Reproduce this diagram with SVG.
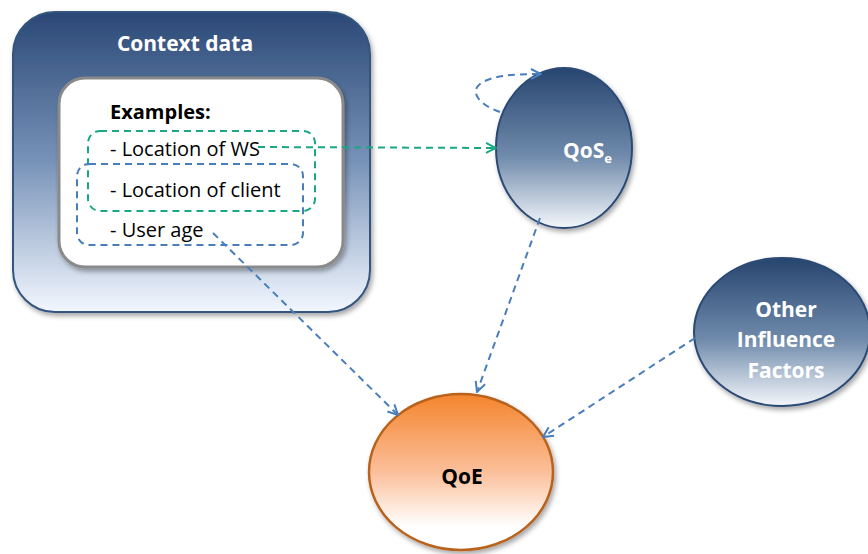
<svg xmlns="http://www.w3.org/2000/svg" width="868" height="554" viewBox="0 0 868 554">
<defs>
<linearGradient id="gOuter" x1="0" y1="0" x2="0" y2="1">
<stop offset="0" stop-color="#2a4876"/>
<stop offset="0.5" stop-color="#7893b8"/>
<stop offset="1" stop-color="#f2f7ff"/>
</linearGradient>
<linearGradient id="gBlue" x1="0" y1="0" x2="0" y2="1">
<stop offset="0" stop-color="#27456f"/>
<stop offset="0.55" stop-color="#6f8aab"/>
<stop offset="1" stop-color="#f4f7fb"/>
</linearGradient>
<linearGradient id="gOrange" x1="0" y1="0" x2="0" y2="1">
<stop offset="0" stop-color="#f4842c"/>
<stop offset="0.5" stop-color="#fbbf9a"/>
<stop offset="0.85" stop-color="#ffffff"/>
<stop offset="1" stop-color="#ffffff"/>
</linearGradient>
<filter id="sh" x="-10%" y="-10%" width="130%" height="130%">
<feDropShadow dx="2" dy="3" stdDeviation="2.5" flood-color="#000" flood-opacity="0.35"/>
</filter>
<marker id="arB" viewBox="0 0 12 12" refX="11" refY="6" markerWidth="12" markerHeight="12" markerUnits="userSpaceOnUse" orient="auto">
<polyline points="1,1 11,6 1,11" fill="none" stroke="#4a7ebb" stroke-width="2"/>
</marker>
<marker id="arG" viewBox="0 0 12 12" refX="11" refY="6" markerWidth="12" markerHeight="12" markerUnits="userSpaceOnUse" orient="auto">
<polyline points="1,1 11,6 1,11" fill="none" stroke="#1aa884" stroke-width="2"/>
</marker>
</defs>
<style>
.t{font-family:"Open Sans","Liberation Sans",sans-serif}
.wb{fill:#fff;font-weight:bold;font-size:21px;text-anchor:middle}
.bk{fill:#000;font-size:20px}
.db{fill:none;stroke:#4a7ebb;stroke-width:2;stroke-dasharray:7,5}
.dg{fill:none;stroke:#1aa884;stroke-width:2;stroke-dasharray:7,5}
</style>
<rect width="868" height="554" fill="#fff"/>

<g id="context">
<rect x="13" y="12" width="357" height="300" rx="42" fill="url(#gOuter)" stroke="#34557f" stroke-width="2" filter="url(#sh)"/>
<text class="t wb" x="185" y="51">Context data</text>
<rect x="59" y="78" width="284" height="189" rx="26" fill="#fff" stroke="#8a8a8a" stroke-width="3" filter="url(#sh)"/>
<text class="t bk" x="110" y="119" font-weight="bold" font-size="17.5">Examples:</text>
<text class="t bk" x="110" y="156">- Location of WS</text>
<text class="t bk" x="110" y="197">- Location of client</text>
<text class="t bk" x="110" y="237">- User age</text>
<rect class="dg" x="88" y="131" width="227" height="80" rx="12"/>
<rect class="db" x="77" y="164" width="226" height="81" rx="12"/>
</g>

<g id="qose">
<ellipse cx="564" cy="148" rx="68" ry="80" fill="url(#gBlue)" stroke="#2c4a74" stroke-width="2" filter="url(#sh)"/>
<text class="t" x="563" y="158" fill="#fff" font-weight="bold" font-size="21">QoS<tspan font-size="13" dy="5">e</tspan></text>
</g>

<g id="other">
<ellipse cx="782" cy="332" rx="88" ry="74" fill="url(#gBlue)" stroke="#2c4a74" stroke-width="2" filter="url(#sh)"/>
<text class="t wb" x="786" y="317">Other</text>
<text class="t wb" x="786" y="347">Influence</text>
<text class="t wb" x="786" y="378">Factors</text>
</g>

<g id="qoe">
<ellipse cx="461" cy="472" rx="92" ry="78" fill="url(#gOrange)" stroke="#b8621c" stroke-width="2.5" filter="url(#sh)"/>
<text class="t" x="462" y="484" fill="#000" font-weight="bold" font-size="21" text-anchor="middle">QoE</text>
</g>

<g id="connectors">
<path class="dg" d="M258,147 L496,148" marker-end="url(#arG)"/>
<path class="db" d="M500,112 C478,104 470,92 480,84 C492,75 515,74 541,74" marker-end="url(#arB)"/>
<path class="db" d="M213,233 L398,415" marker-end="url(#arB)"/>
<path class="db" d="M540,218 L477,392" marker-end="url(#arB)"/>
<path class="db" d="M695,338 L543,437" marker-end="url(#arB)"/>
</g>
</svg>
